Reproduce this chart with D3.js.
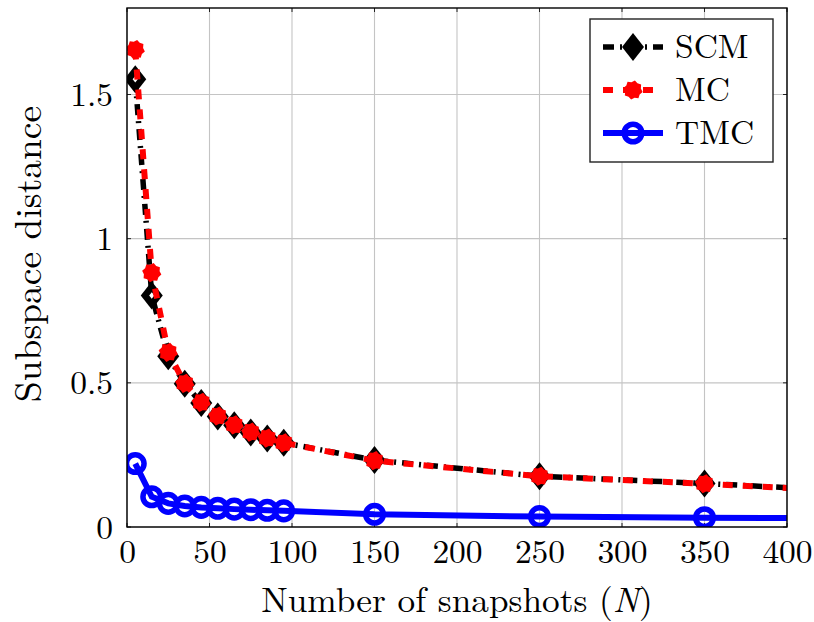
<!DOCTYPE html>
<html>
<head>
<meta charset="utf-8">
<script src="https://cdn.jsdelivr.net/npm/d3@7"></script>
<style>
  html, body { margin: 0; padding: 0; background: #fff; }
  svg { display: block; }
</style>
</head>
<body>
<svg id="chart" width="814" height="622"></svg>
<script>
// ---- data ----
const snapshots = [5, 15, 25, 35, 45, 55, 65, 75, 85, 95, 150, 250, 350, 450];
const scmValues = [1.553, 0.803, 0.592, 0.497, 0.430, 0.383, 0.353, 0.328, 0.307, 0.292, 0.232, 0.176, 0.151, 0.122];
const mcValues  = [1.656, 0.882, 0.606, 0.498, 0.432, 0.385, 0.354, 0.329, 0.308, 0.292, 0.230, 0.176, 0.150, 0.121];
const tmcValues = [0.220, 0.105, 0.082, 0.073, 0.068, 0.065, 0.062, 0.060, 0.058, 0.056, 0.044, 0.036, 0.032, 0.030];
const seriesNames = ["SCM", "MC", "TMC"];
const xTickValues = [0, 50, 100, 150, 200, 250, 300, 350, 400];
const yTickValues = [0, 0.5, 1, 1.5];
const yTickLabels = ["0", "0.5", "1", "1.5"];
const xTitle = "Number of snapshots (";
const xTitleVar = "N";
const yTitle = "Subspace distance";

const FONT = '"Latin Modern Roman", "Liberation Serif", monospace';
const FS = 33.5;

// ---- layout ----
const svg = d3.select("#chart");
const L = 127, T = 8, W = 660, H = 519;
const x = d3.scaleLinear().domain([0, 400]).range([L, L + W]);
const y = d3.scaleLinear().domain([0, 1.8]).range([T + H, T]);

svg.append("defs").append("clipPath").attr("id", "plotclip")
  .append("rect").attr("x", L).attr("y", T).attr("width", W).attr("height", H);

// grid
const grid = svg.append("g");
grid.selectAll("line.gx").data(xTickValues).join("line")
  .attr("x1", d => x(d)).attr("x2", d => x(d)).attr("y1", T).attr("y2", T + H)
  .attr("stroke", "#c4c4c4").attr("stroke-width", 1.1);
grid.selectAll("line.gy").data(yTickValues).join("line")
  .attr("y1", d => y(d)).attr("y2", d => y(d)).attr("x1", L).attr("x2", L + W)
  .attr("stroke", "#c4c4c4").attr("stroke-width", 1.1);

// axes
const xAxis = d3.axisBottom(x).tickValues(xTickValues).tickSize(0).tickPadding(0).tickFormat(d3.format("d"));
const gx = svg.append("g").attr("transform", `translate(0,${T + H})`).call(xAxis)
  .attr("font-family", FONT).attr("font-size", FS);
gx.select(".domain").remove();
gx.selectAll("text").attr("dy", null).attr("y", 36).style("font-family", FONT).style("font-size", FS + "px");

const yAxis = d3.axisLeft(y).tickValues(yTickValues).tickSize(0).tickPadding(14)
  .tickFormat((d, i) => yTickLabels[i]);
const gy = svg.append("g").attr("transform", `translate(${L},0)`).call(yAxis)
  .attr("font-family", FONT).attr("font-size", FS);
gy.select(".domain").remove();
gy.selectAll("text").attr("dy", "0.33em").style("font-family", FONT).style("font-size", FS + "px");

// small inward tick marks
const tk = svg.append("g").attr("stroke", "#222").attr("stroke-width", 1);
xTickValues.forEach(v => {
  tk.append("line").attr("x1", x(v)).attr("x2", x(v)).attr("y1", T + H).attr("y2", T + H - 4);
  tk.append("line").attr("x1", x(v)).attr("x2", x(v)).attr("y1", T).attr("y2", T + 4);
});
yTickValues.forEach(v => {
  tk.append("line").attr("y1", y(v)).attr("y2", y(v)).attr("x1", L).attr("x2", L + 4);
  tk.append("line").attr("y1", y(v)).attr("y2", y(v)).attr("x1", L + W).attr("x2", L + W - 4);
});

// ---- series ----
const plot = svg.append("g").attr("clip-path", "url(#plotclip)");
const lineGen = vals => d3.line().x((d, i) => x(snapshots[i])).y(d => y(d))(vals);

const diamondOuter = (a, b) => `M0,${-b}L${a},0L0,${b}L${-a},0Z`;
function gearPath(r1, r2, n) {
  const pts = [];
  for (let k = 0; k < 2 * n; k++) {
    const ang = Math.PI * k / n + Math.PI / (2 * n);
    const r = k % 2 === 0 ? r1 : r2;
    pts.push([r * Math.cos(ang), r * Math.sin(ang)]);
  }
  return "M" + pts.map(p => p[0].toFixed(2) + "," + p[1].toFixed(2)).join("L") + "Z";
}

// SCM
plot.append("path").attr("d", lineGen(scmValues)).attr("fill", "none")
  .attr("stroke", "#000").attr("stroke-width", 5.5).attr("stroke-dasharray", "11,6,2,6");
const scmMarks = plot.append("g").selectAll("g").data(scmValues).join("g")
  .attr("transform", (d, i) => `translate(${x(snapshots[i])},${y(d)})`);
scmMarks.append("path").attr("d", diamondOuter(11, 14)).attr("fill", "#000");
scmMarks.append("path").attr("d", diamondOuter(2.6, 3.3)).attr("fill", "#fff");

// MC
plot.append("path").attr("d", lineGen(mcValues)).attr("fill", "none")
  .attr("stroke", "#ff0000").attr("stroke-width", 6).attr("stroke-dasharray", "10,10");
plot.append("g").selectAll("path").data(mcValues).join("path")
  .attr("transform", (d, i) => `translate(${x(snapshots[i])},${y(d)})`)
  .attr("d", gearPath(9.8, 8.0, 8)).attr("fill", "#ff0000");

// TMC
plot.append("path").attr("d", lineGen(tmcValues)).attr("fill", "none")
  .attr("stroke", "#0000ff").attr("stroke-width", 6);
plot.append("g").selectAll("circle").data(tmcValues).join("circle")
  .attr("cx", (d, i) => x(snapshots[i])).attr("cy", d => y(d)).attr("r", 8.8)
  .attr("fill", "none").attr("stroke", "#0000ff").attr("stroke-width", 5.5);

// frame
svg.append("rect").attr("x", L).attr("y", T).attr("width", W).attr("height", H)
  .attr("fill", "none").attr("stroke", "#000").attr("stroke-width", 1.4);

// axis titles
const xt = svg.append("text").attr("x", L + W / 2).attr("y", 612)
  .attr("text-anchor", "middle").style("font-family", FONT).style("font-size", "35.3px");
xt.append("tspan").text(xTitle);
xt.append("tspan").attr("font-style", "italic").text(xTitleVar);
xt.append("tspan").text(")");

svg.append("text").attr("transform", `translate(41,254) rotate(-90)`)
  .attr("text-anchor", "middle").style("font-family", FONT).style("font-size", "37.5px")
  .text(yTitle);

// ---- legend ----
const lg = svg.append("g");
lg.append("rect").attr("x", 590).attr("y", 19).attr("width", 183).attr("height", 143)
  .attr("fill", "#fff").attr("stroke", "#222").attr("stroke-width", 1.4);
const rowY = [47, 90, 133];
const styles = [
  { stroke: "#000", width: 5.5, dash: "11,6,2,6" },
  { stroke: "#ff0000", width: 6, dash: "10,10" },
  { stroke: "#0000ff", width: 6, dash: null }
];
seriesNames.forEach((name, i) => {
  const g = lg.append("g").attr("transform", `translate(0,${rowY[i]})`);
  g.append("line").attr("x1", 603).attr("x2", 663).attr("y1", 0).attr("y2", 0)
    .attr("stroke", styles[i].stroke).attr("stroke-width", styles[i].width)
    .attr("stroke-dasharray", styles[i].dash);
  if (i === 0) g.append("path").attr("transform", "translate(633,0)").attr("d", diamondOuter(11, 14)).attr("fill", "#000");
  if (i === 1) g.append("path").attr("transform", "translate(633,0)").attr("d", gearPath(9.8, 8.0, 8)).attr("fill", "#ff0000");
  if (i === 2) g.append("circle").attr("cx", 633).attr("cy", 0).attr("r", 8.8)
    .attr("fill", "none").attr("stroke", "#0000ff").attr("stroke-width", 5.5);
  g.append("text").attr("x", 675).attr("y", 11).style("font-family", FONT).style("font-size", FS + "px").text(name);
});
</script>
</body>
</html>
